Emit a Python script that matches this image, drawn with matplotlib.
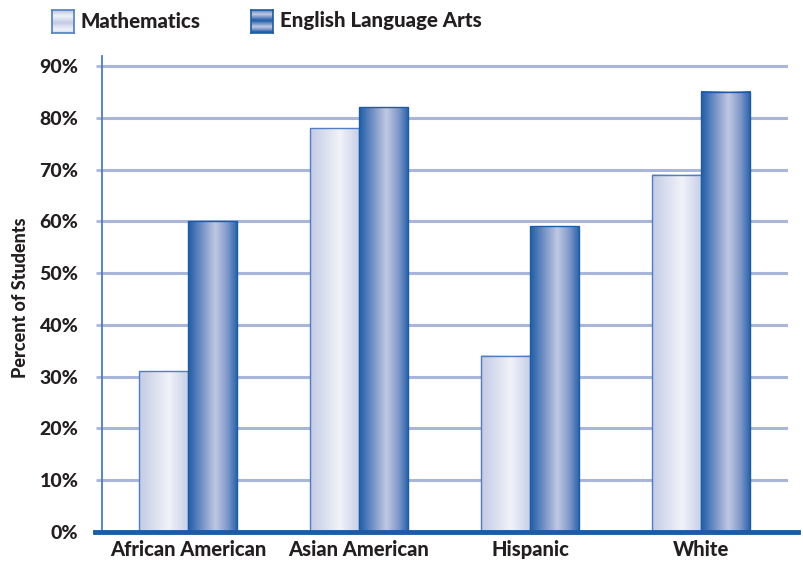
import numpy as np
import matplotlib
matplotlib.use("Agg")
import matplotlib.pyplot as plt
from matplotlib.colors import LinearSegmentedColormap
from matplotlib.lines import Line2D

categories = ["African American", "Asian American", "Hispanic", "White"]
series_names = ["Mathematics", "English Language Arts"]
math_values = [31, 78, 34, 69]
ela_values = [60, 82, 59, 85]
ytick_values = [0, 10, 20, 30, 40, 50, 60, 70, 80, 90]
ytick_labels = ["0%", "10%", "20%", "30%", "40%", "50%", "60%", "70%", "80%", "90%"]

plt.rcParams['font.family'] = ['Lato', 'DejaVu Sans']
TXT = "#231f20"
WT = "black"

math_cmap = LinearSegmentedColormap.from_list(
    "m", [(0, "#c3cbe5"), (0.6, "#f1f3fa"), (1, "#c6cee7")])
ela_cmap = LinearSegmentedColormap.from_list(
    "e", [(0, "#1c5ca6"), (0.25, "#6c8cc4"), (0.55, "#c0c9e2"), (0.8, "#7d97c9"), (1, "#225fa9")])
grad = np.linspace(0, 1, 256).reshape(1, -1)

fig = plt.figure(figsize=(8.04, 5.62), dpi=100)
W, H = 804, 562
ax = fig.add_axes([102 / W, 1 - 532 / H, (788 - 102) / W, (532 - 55.6) / H])
ax.set_xlim(-0.503, 3.509)
ax.set_ylim(0, 92)

for y in ytick_values[1:]:
    ax.axhline(y, color="#a9b5d9", lw=2.2, zorder=1)

bw = 0.287
x = np.arange(len(categories))
for i in range(len(categories)):
    for vals, cmap, edge, off in [(math_values, math_cmap, "#4f7fc2", -bw / 2),
                                  (ela_values, ela_cmap, "#1c5ca6", bw / 2)]:
        x0 = x[i] + off - bw / 2
        x1 = x[i] + off + bw / 2
        h = vals[i]
        ax.imshow(grad, cmap=cmap, extent=[x0, x1, 0, h], aspect="auto", zorder=2,
                  interpolation="bilinear")
        ax.add_patch(plt.Rectangle((x0, 0), bw, h, fill=False, ec=edge, lw=1.0, zorder=3))
ax.set_xlim(-0.503, 3.509)
ax.set_ylim(0, 92)

for s in ["top", "right", "bottom"]:
    ax.spines[s].set_visible(False)
ax.spines["left"].set_color("#4a7cc0")
ax.spines["left"].set_linewidth(1.3)

ax.set_yticks(ytick_values)
ax.set_yticklabels(ytick_labels, fontsize=14, fontweight=WT, color=TXT)
ax.tick_params(axis="y", length=4, width=2, color="#a9b5d9", pad=13)
ax.set_xticks(x)
ax.set_xticklabels(categories, fontsize=14.5, fontweight=WT, color=TXT)
ax.tick_params(axis="x", length=0, pad=6)

fig.text(21 / W, 1 - 298 / H, "Percent of Students", rotation=90, ha="center", va="center",
         fontsize=13, fontweight=WT, color=TXT)

# thick baseline
fig.add_artist(Line2D([95 / W, 798 / W], [1 - 532 / H, 1 - 532 / H], color="#1c5ca6", lw=3.5,
                      transform=fig.transFigure))

# legend
for (lx, name, cmap, edge) in [(52, series_names[0], math_cmap, "#4f7fc2"),
                               (251, series_names[1], ela_cmap, "#1c5ca6")]:
    lax = fig.add_axes([lx / W, 1 - 33 / H, 22 / W, 23 / H])
    g = np.linspace(0, 1, 64).reshape(-1, 1)
    lax.imshow(np.abs(g - 0.45) * 2 if cmap is ela_cmap else np.abs(g - 0.55) * 2,
               cmap=cmap, aspect="auto", extent=[0, 1, 0, 1], vmin=0, vmax=1)
    lax.set_xticks([]); lax.set_yticks([])
    for sp in lax.spines.values():
        sp.set_color(edge); sp.set_linewidth(1.2)
    fig.text((lx + 29) / W, 1 - 21 / H, name, fontsize=14.8, fontweight=WT,
             color=TXT, va="center", ha="left")

fig.savefig("out.png", dpi=100)
